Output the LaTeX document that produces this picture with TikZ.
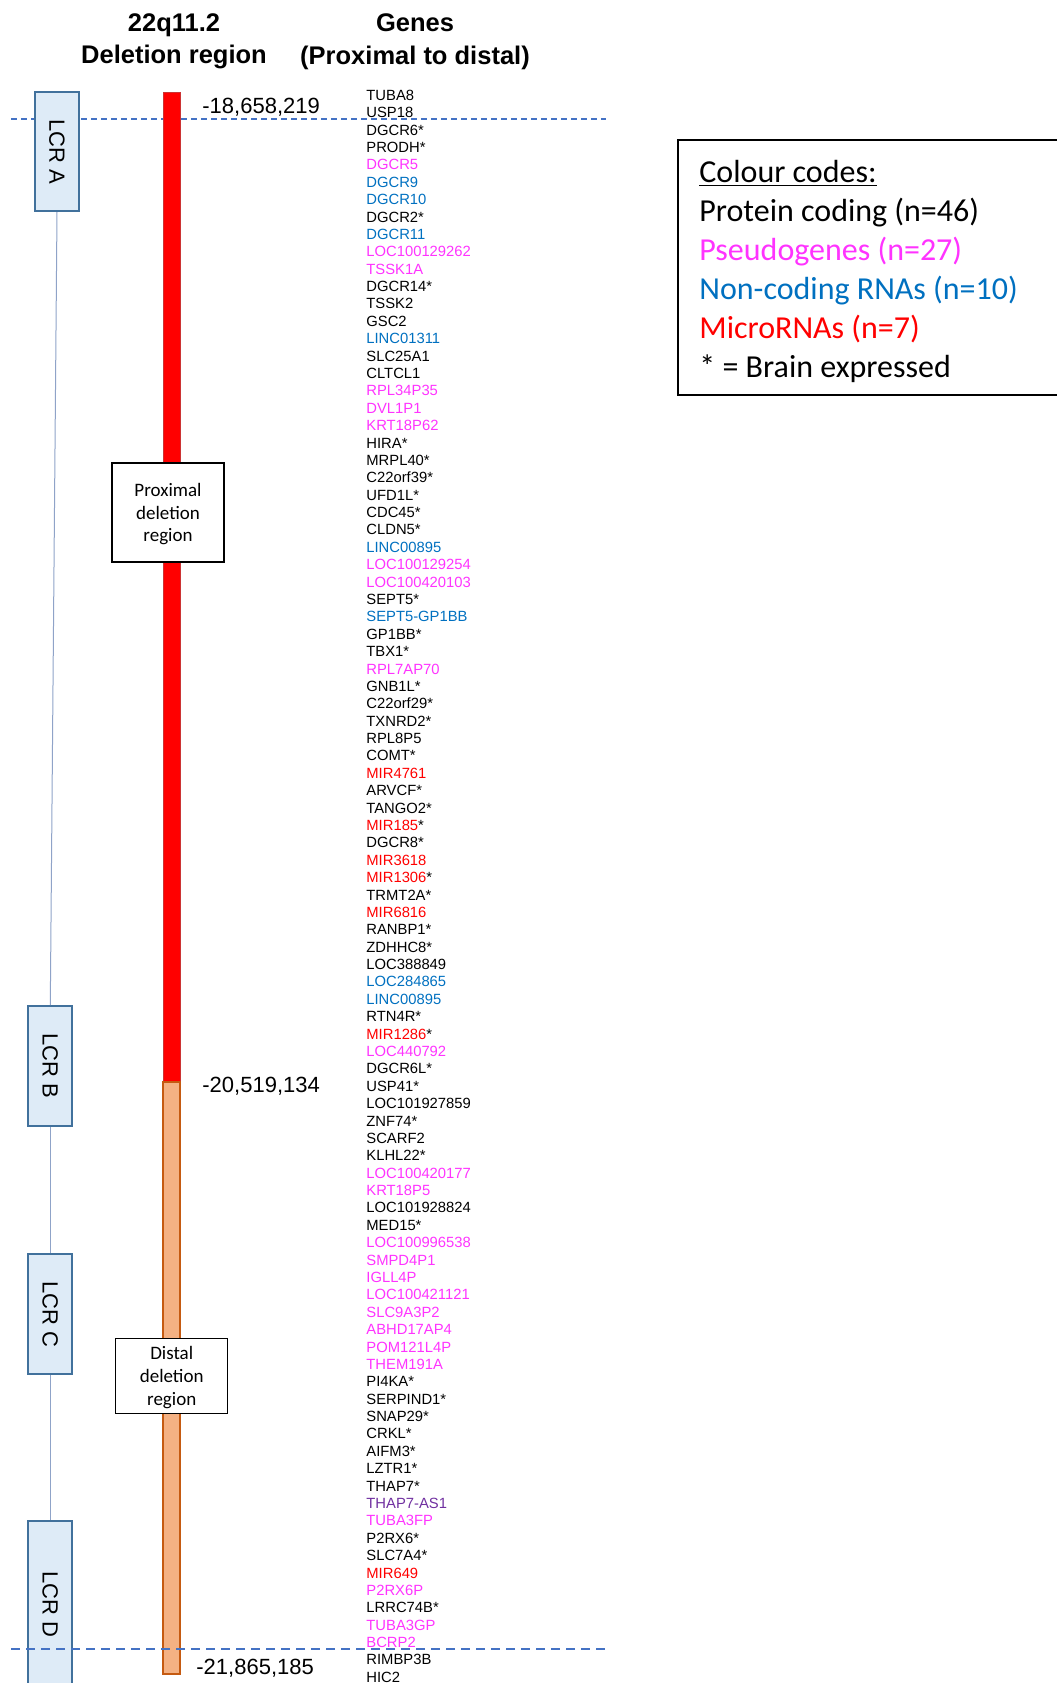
\documentclass[tikz,border=0pt]{standalone}
\usepackage{fontspec}
\setmainfont{Liberation Sans}
\newfontfamily\calibri{Carlito}
\usepackage{tikz}
\usetikzlibrary{positioning}
\definecolor{pseudo}{HTML}{FF33FF}
\definecolor{ncrna}{HTML}{0070C0}
\definecolor{mirna}{HTML}{FF0000}
\definecolor{antis}{HTML}{7030A0}
\definecolor{lcrfill}{HTML}{DEEBF7}
\definecolor{lcredge}{HTML}{41719C}
\definecolor{cutcol}{HTML}{4472C4}
\definecolor{distfill}{HTML}{F4B183}
\definecolor{distedge}{HTML}{C55A11}
\definecolor{joincol}{HTML}{8FA3C8}
\newcommand{\brainstar}{\textcolor{black}{*}}

\begin{document}
\begin{tikzpicture}[x=0.5pt, y=-0.5pt,
      headline/.style={align=center, inner sep=0pt, font=\fontsize{12.75}{16.25}\selectfont\bfseries},
      gene/.style={anchor=base west, inner sep=0pt, font=\fontsize{7.4}{8.7}\selectfont},
      bpnum/.style={anchor=west, inner sep=0pt, font=\fontsize{11}{13}\selectfont},
      lcr/.style={draw=lcredge, fill=lcrfill, line width=1pt, rotate=-90, inner sep=0pt,
                  minimum height=22pt, font=\fontsize{11}{13}\selectfont},
      delbox/.style={draw, fill=white, line width=0.6pt, align=center, inner sep=1pt,
                     text depth=0pt, minimum width=56pt,
                     font=\calibri\fontsize{9.5}{11.4}\selectfont},
      lcrlink/.style={draw=joincol, line width=0.5pt},
      cutline/.style={draw=cutcol}]
    \useasboundingbox (0,0) rectangle (1056,1683);
    \node[headline] (regtitle) at (174,41.5) {22q11.2\\Deletion region};
    \node[headline] (genetitle) at (415,41.5) {Genes\\(Proximal to distal)};
    \coordinate (cuttopL) at (11,119); \coordinate (cuttopR) at (606,119);
    \coordinate (cutbotL) at (11,1649); \coordinate (cutbotR) at (606,1649);
    \draw[cutline, line width=0.6pt, dash pattern=on 3pt off 2pt] (cuttopL)--(cuttopR);
    \draw[fill=red, draw=red!60!gray, line width=0.5pt] (163,92) rectangle (180,1082);
    \draw[fill=distfill, draw=distedge, line width=0.7pt] (163,1082) rectangle (180,1674);
    \node[lcr, minimum width=59.5pt] (lcra) at (57,151.5) {LCR A};
    \node[lcr, minimum width=60pt] (lcrb) at (50.3,1066) {LCR B};
    \node[lcr, minimum width=60pt] (lcrc) at (50.3,1314) {LCR C};
    \node[lcr, minimum width=83pt] (lcrd) at (50.3,1604) {LCR D};
    \draw[lcrlink] (lcra.east)--(lcrb.west); \draw[lcrlink] (lcrb.east)--(lcrc.west);
    \draw[lcrlink] (lcrc.east)--(lcrd.west);
    \node[delbox, minimum height=49.5pt] (prox) at (168,512.5) {Proximal\\deletion\\region};
    \node[delbox, minimum height=37.5pt] (dist) at (171.7,1375.8) {Distal\\deletion\\region};
    \node[bpnum] (bpstart) at (202,107.5) {-18,658,219};
    \node[bpnum] (bpmid) at (202,1086.5) {-20,519,134};
    \node[bpnum] (bpend) at (196,1668.5) {-21,865,185};
    \foreach \col/\gene [count=\i] in {black/TUBA8, black/USP18, black/DGCR6*, black/PRODH*,
        pseudo/DGCR5, ncrna/DGCR9, ncrna/DGCR10, black/DGCR2*, ncrna/DGCR11,
        pseudo/LOC100129262, pseudo/TSSK1A, black/DGCR14*, black/TSSK2, black/GSC2,
        ncrna/LINC01311, black/SLC25A1, black/CLTCL1, pseudo/RPL34P35, pseudo/DVL1P1,
        pseudo/KRT18P62, black/HIRA*, black/MRPL40*, black/C22orf39*, black/UFD1L*,
        black/CDC45*, black/CLDN5*, ncrna/LINC00895, pseudo/LOC100129254,
        pseudo/LOC100420103, black/SEPT5*, ncrna/SEPT5-GP1BB, black/GP1BB*, black/TBX1*,
        pseudo/RPL7AP70, black/GNB1L*, black/C22orf29*, black/TXNRD2*, black/RPL8P5,
        black/COMT*, mirna/MIR4761, black/ARVCF*, black/TANGO2*, mirna/MIR185\brainstar,
        black/DGCR8*, mirna/MIR3618, mirna/MIR1306\brainstar, black/TRMT2A*, mirna/MIR6816,
        black/RANBP1*, black/ZDHHC8*, black/LOC388849, ncrna/LOC284865, ncrna/LINC00895,
        black/RTN4R*, mirna/MIR1286\brainstar, pseudo/LOC440792, black/DGCR6L*, black/USP41*,
        black/LOC101927859, black/ZNF74*, black/SCARF2, black/KLHL22*, pseudo/LOC100420177,
        pseudo/KRT18P5, black/LOC101928824, black/MED15*, pseudo/LOC100996538,
        pseudo/SMPD4P1, pseudo/IGLL4P, pseudo/LOC100421121, pseudo/SLC9A3P2,
        pseudo/ABHD17AP4, pseudo/POM121L4P, pseudo/THEM191A, black/PI4KA*, black/SERPIND1*,
        black/SNAP29*, black/CRKL*, black/AIFM3*, black/LZTR1*, black/THAP7*,
        antis/THAP7-AS1, pseudo/TUBA3FP, black/P2RX6*, black/SLC7A4*, mirna/MIR649,
        pseudo/P2RX6P, black/LRRC74B*, pseudo/TUBA3GP, pseudo/BCRP2, black/RIMBP3B,
        black/HIC2}
      \node[gene, text=\col] (g\i) at (366,{100.3+(\i-1)*17.385}) {\gene};
    \draw[cutline, line width=1pt, dash pattern=on 4.5pt off 3pt] (cutbotL)--(cutbotR);
    \draw[line width=1pt] (1062,140) rectangle (678,395);
    \node[anchor=west, align=left, inner sep=0pt,
          font=\calibri\fontsize{16}{19.55}\selectfont] (key) at (699,271.7)
      {\underline{Colour codes:}\\Protein coding (n=46)\\
       \textcolor{pseudo}{Pseudogenes (n=27)}\\\textcolor{ncrna}{Non-coding RNAs (n=10)}\\
       \textcolor{mirna}{MicroRNAs (n=7)}\\* = Brain expressed};
  \end{tikzpicture}
\end{document}
